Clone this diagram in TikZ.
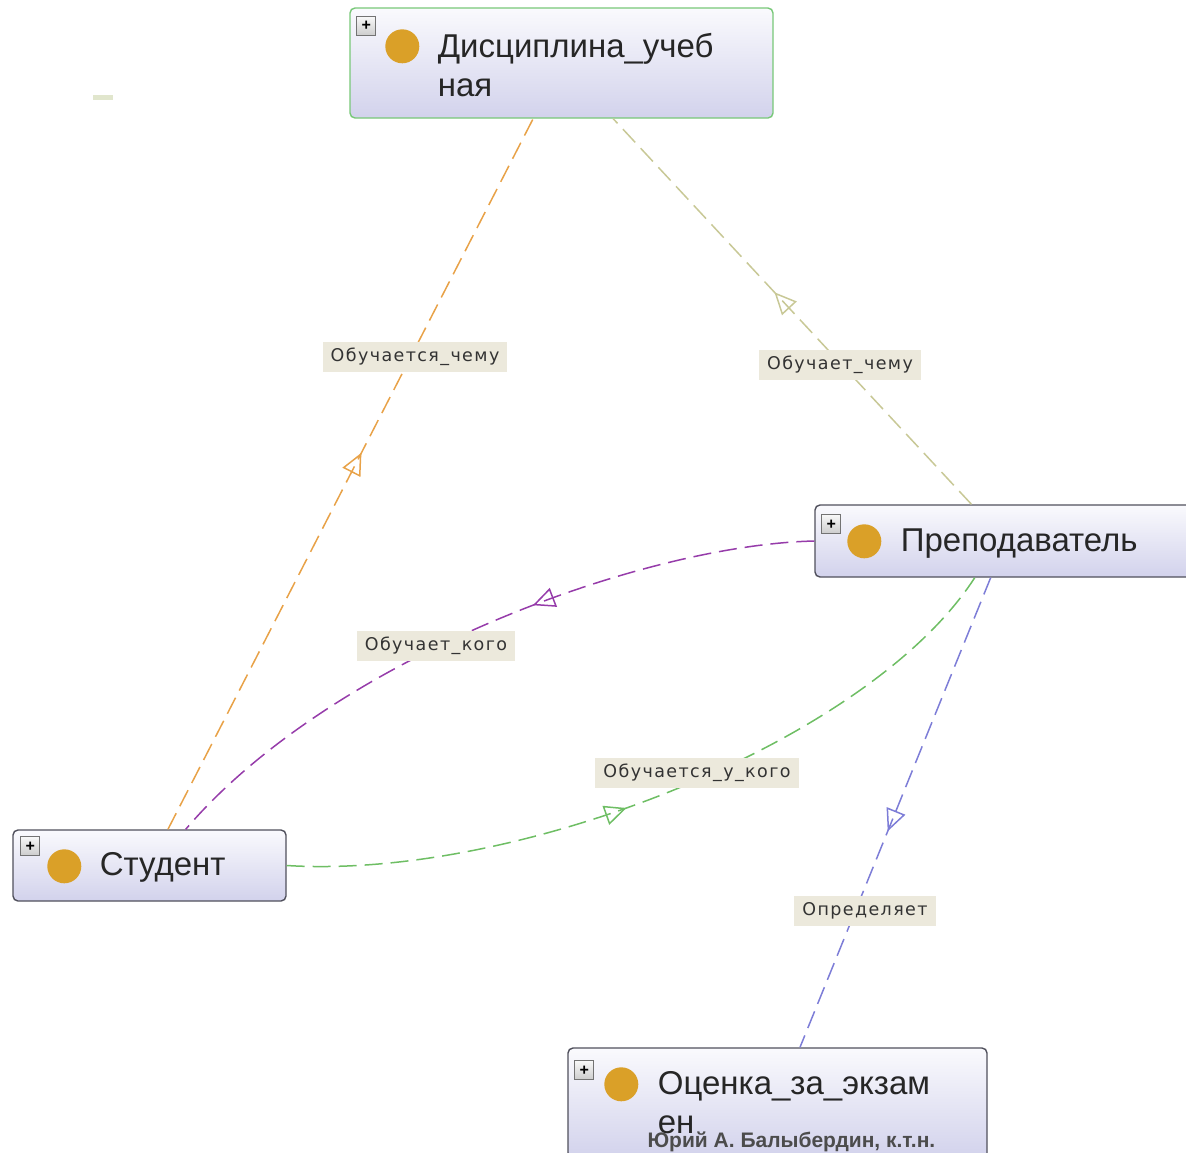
\documentclass[tikz,border=0pt]{standalone}
\usepackage{fontspec}
\setmainfont{Liberation Sans}
\newfontfamily\lblfont[LetterSpace=8]{DejaVu Sans}
\usetikzlibrary{arrows.meta,decorations.markings}
\definecolor{clsedge}{RGB}{80,80,92}
\definecolor{clstop}{RGB}{250,250,253}
\definecolor{clsbot}{RGB}{210,210,236}
\definecolor{selgreen}{RGB}{120,200,120}
\definecolor{dotorange}{RGB}{218,160,40}
\definecolor{lblfill}{RGB}{236,233,220}
\definecolor{lnorange}{RGB}{232,162,72}
\definecolor{lnolive}{RGB}{200,200,150}
\definecolor{lnpurple}{RGB}{150,60,170}
\definecolor{lngreen}{RGB}{110,190,100}
\definecolor{lnblue}{RGB}{125,125,215}
\tikzset{
  cls/.style={rectangle,rounded corners=5pt,draw=clsedge,line width=1.4pt,top color=clstop,bottom color=clsbot,inner sep=0pt},
  plusbox/.style={rectangle,draw=black!55,top color=black!3,bottom color=black!20,line width=.8pt,minimum size=19pt,inner sep=0pt,font=\fontsize{16}{16}\selectfont\bfseries},
  clsdot/.style={circle,fill=dotorange,minimum size=34pt,inner sep=0pt},
  clsname/.style={anchor=base west,align=left,font=\fontsize{33}{39}\selectfont,text=black!85},
  rel/.style={line width=1.5pt,dash pattern=on 18pt off 8pt},
  relmark/.style={postaction={decorate,decoration={markings,mark=at position #1 with {\arrow{Triangle[open,length=22pt,width=20pt]}}}}},
  rellbl/.style={fill=lblfill,inner xsep=8pt,inner ysep=0pt,minimum height=30pt,font=\lblfont\fontsize{17.5}{17.5}\selectfont,text=black!80}
}
\begin{document}
\begin{tikzpicture}[x=1pt,y=-1pt]
\useasboundingbox (0,0) rectangle (1186,1152);
\clip (0,0) rectangle (1186,1152);
\path[fill={rgb,255:red,225;green,230;blue,205}] (93,95) rectangle (113,100);
\node[cls,draw=selgreen,minimum width=423pt,minimum height=110pt] (disc) at (561.5,63) {};
\node[plusbox] (discplus) at ([xshift=17pt,yshift=-19pt]disc.north west) {+};
\node[clsdot] (discdot) at ([xshift=53pt,yshift=-39pt]disc.north west) {};
\node[clsname] (discname) at ([xshift=85pt,yshift=-89pt]disc.north west) {Дисциплина\_учеб\\ная};
\node[cls,minimum width=381pt,minimum height=72pt] (prep) at (1005.5,541) {};
\node[plusbox] (prepplus) at ([xshift=17pt,yshift=-20pt]prep.north west) {+};
\node[clsdot] (prepdot) at ([xshift=50pt,yshift=-37pt]prep.north west) {};
\node[clsname] (prepname) at ([xshift=83pt,yshift=-47pt]prep.north west) {Преподаватель};
\node[cls,minimum width=273pt,minimum height=71pt] (stud) at (149.5,865.5) {};
\node[plusbox] (studplus) at ([xshift=18pt,yshift=-17pt]stud.north west) {+};
\node[clsdot] (studdot) at ([xshift=52pt,yshift=-37pt]stud.north west) {};
\node[clsname] (studname) at ([xshift=84pt,yshift=-46pt]stud.north west) {Студент};
\node[cls,minimum width=419pt,minimum height=110pt] (ocen) at (777.5,1103) {};
\node[plusbox] (ocenplus) at ([xshift=17pt,yshift=-23pt]ocen.north west) {+};
\node[clsdot] (ocendot) at ([xshift=54pt,yshift=-37pt]ocen.north west) {};
\node[clsname] (ocenname) at ([xshift=87pt,yshift=-86pt]ocen.north west) {Оценка\_за\_экзам\\ен};
\draw[rel,lnorange,relmark=0.53] (stud) -- (disc);
\draw[rel,lnolive,relmark=0.55] (prep) -- (disc);
\draw[rel,lnblue,relmark=0.54] (prep) -- (ocen);
\draw[rel,lnpurple,relmark=0.41] (prep.west) .. controls (640,545) and (330,660) .. (stud.45);
\draw[rel,lngreen,relmark=0.45] (stud.east) .. controls (520,880) and (870,740) .. (prep.230);
\node[rellbl] (lbllearn) at (415,357) {Обучается\_чему};
\node[rellbl] (lblteach) at (840,365) {Обучает\_чему};
\node[rellbl] (lblwhom) at (436,646) {Обучает\_кого};
\node[rellbl] (lblfrom) at (697,773) {Обучается\_у\_кого};
\node[rellbl] (lblgrade) at (865,911) {Определяет};
\node[anchor=base west,font=\fontsize{21}{21}\selectfont\bfseries,text=black!70] (author) at (644,1147) {Юрий А. Балыбердин, к.т.н.};
\end{tikzpicture}
\end{document}
